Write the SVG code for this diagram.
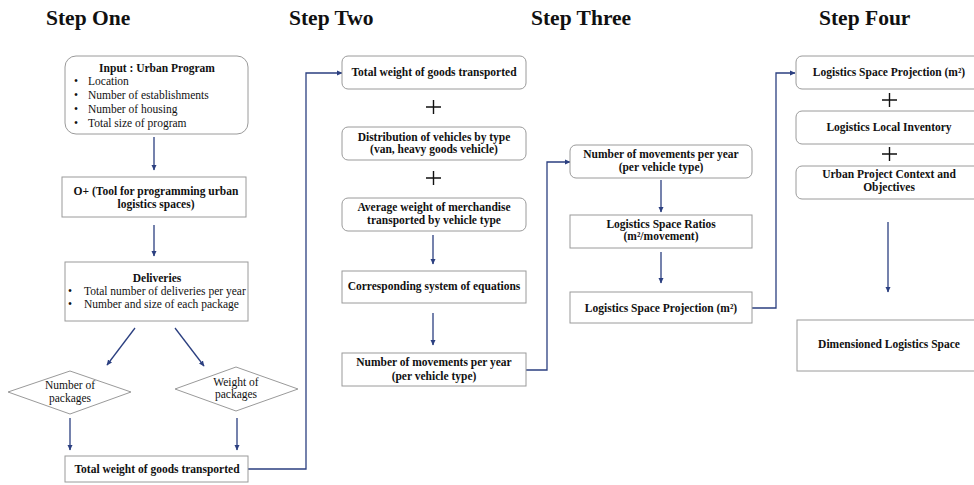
<svg xmlns="http://www.w3.org/2000/svg" width="974" height="485" viewBox="0 0 974 485">
<style>
.t{font-family:"Liberation Serif","Times New Roman",serif;fill:#111}
.h{font-size:21.5px;font-weight:bold}
.b{font-size:11.5px;font-weight:bold;text-anchor:middle}
.r{font-size:11.5px}
.rc{font-size:11.5px;text-anchor:middle}
.box{fill:#fff;stroke:#9a9a9a;stroke-width:1}
.plus{stroke:#111;stroke-width:1.4}
.c{fill:none;stroke:#2b3f80;stroke-width:1.3;marker-end:url(#a)}
</style>
<defs>
<marker id="a" markerUnits="userSpaceOnUse" markerWidth="6" markerHeight="6" refX="5" refY="3" orient="auto">
<path d="M0,0.5 L5.5,3 L0,5.5 z" fill="#2b3f80"/>
</marker>
</defs>
<rect width="974" height="485" fill="#fff"/>
<g id="titles">
<text class="t h" x="46" y="25">Step One</text>
<text class="t h" x="289" y="25">Step Two</text>
<text class="t h" x="531" y="25">Step Three</text>
<text class="t h" x="819" y="25">Step Four</text>
</g>
<g id="connectors">
<line class="c" x1="154" y1="137" x2="154" y2="170"/>
<line class="c" x1="154" y1="225" x2="154" y2="256"/>
<line class="c" x1="135" y1="328" x2="107" y2="365"/>
<line class="c" x1="175" y1="328" x2="204" y2="366"/>
<line class="c" x1="70" y1="418" x2="70" y2="450"/>
<line class="c" x1="237" y1="418" x2="237" y2="450"/>
<path class="c" d="M248,469 H306 V73 H342"/>
<line class="c" x1="433" y1="235" x2="433" y2="264"/>
<line class="c" x1="433" y1="313" x2="433" y2="345"/>
<path class="c" d="M526,370 H547 V162 H570"/>
<line class="c" x1="661" y1="180" x2="661" y2="212"/>
<line class="c" x1="661" y1="252" x2="661" y2="283"/>
<path class="c" d="M752,308 H776 V73 H795"/>
<line class="c" x1="888" y1="222" x2="888" y2="292"/>
</g>
<g id="input">
<rect class="box" x="65" y="56" width="183" height="78" rx="11"/>
<text class="t b" x="157" y="72">Input : Urban Program</text>
<text class="t r" x="74" y="85">•</text><text class="t r" x="88" y="85">Location</text>
<text class="t r" x="74" y="99">•</text><text class="t r" x="88" y="99">Number of establishments</text>
<text class="t r" x="74" y="113">•</text><text class="t r" x="88" y="113">Number of housing</text>
<text class="t r" x="74" y="127">•</text><text class="t r" x="88" y="127">Total size of program</text>
</g>
<g id="oplus">
<rect class="box" x="62" y="177" width="184" height="40"/>
<text class="t b" x="156" y="195">O+ (Tool for programming urban</text>
<text class="t b" x="156" y="208">logistics spaces)</text>
</g>
<g id="deliveries">
<rect class="box" x="65" y="262" width="183" height="59"/>
<text class="t b" x="157" y="282">Deliveries</text>
<text class="t r" x="68" y="295">•</text><text class="t r" x="84" y="295">Total number of deliveries per year</text>
<text class="t r" x="68" y="308">•</text><text class="t r" x="84" y="308">Number and size of each package</text>
</g>
<g id="num-packages">
<polygon class="box" points="8,392 70,371 131,392 70,414"/>
<text class="t rc" x="70" y="389">Number of</text>
<text class="t rc" x="70" y="402">packages</text>
</g>
<g id="weight-packages">
<polygon class="box" points="175,389 236,367 298,389 236,411"/>
<text class="t rc" x="236" y="386">Weight of</text>
<text class="t rc" x="236" y="398">packages</text>
</g>
<g id="total-weight-1">
<rect class="box" x="65" y="456" width="183" height="26"/>
<text class="t b" x="157" y="473">Total weight of goods transported</text>
</g>
<g id="total-weight-2">
<rect class="box" x="342" y="56" width="184" height="33" rx="6"/>
<text class="t b" x="434" y="76">Total weight of goods transported</text>
</g>
<g id="plus-2a"><path class="plus" d="M426,107 H441 M433.5,100 V114"/></g>
<g id="distribution">
<rect class="box" x="342" y="127" width="184" height="33" rx="6"/>
<text class="t b" x="434" y="141">Distribution of vehicles by type</text>
<text class="t b" x="434" y="153">(van, heavy goods vehicle)</text>
</g>
<g id="plus-2b"><path class="plus" d="M426,178 H441 M433.5,171 V185"/></g>
<g id="average">
<rect class="box" x="342" y="198" width="184" height="33" rx="6"/>
<text class="t b" x="434" y="211">Average weight of merchandise</text>
<text class="t b" x="434" y="224">transported by vehicle type</text>
</g>
<g id="equations">
<rect class="box" x="342" y="271" width="184" height="32"/>
<text class="t b" x="434" y="290">Corresponding system of equations</text>
</g>
<g id="movements-2">
<rect class="box" x="342" y="353" width="184" height="33"/>
<text class="t b" x="434" y="366">Number of movements per year</text>
<text class="t b" x="434" y="380">(per vehicle type)</text>
</g>
<g id="movements-3">
<rect class="box" x="570" y="145" width="182" height="33" rx="6"/>
<text class="t b" x="661" y="158">Number of movements per year</text>
<text class="t b" x="661" y="171">(per vehicle type)</text>
</g>
<g id="ratios">
<rect class="box" x="570" y="215" width="182" height="33"/>
<text class="t b" x="661" y="228">Logistics Space Ratios</text>
<text class="t b" x="661" y="240">(m²/movement)</text>
</g>
<g id="projection-3">
<rect class="box" x="570" y="292" width="182" height="31"/>
<text class="t b" x="661" y="312">Logistics Space Projection (m²)</text>
</g>
<g id="projection-4">
<rect class="box" x="796" y="56" width="190" height="33" rx="6"/>
<text class="t b" x="889" y="76">Logistics Space Projection (m²)</text>
</g>
<g id="plus-4a"><path class="plus" d="M882,100 H897 M889.5,93 V107"/></g>
<g id="inventory">
<rect class="box" x="796" y="111" width="190" height="33" rx="6"/>
<text class="t b" x="889" y="131">Logistics Local Inventory</text>
</g>
<g id="plus-4b"><path class="plus" d="M882,154 H897 M889.5,147 V161"/></g>
<g id="context">
<rect class="box" x="796" y="166" width="190" height="33" rx="6"/>
<text class="t b" x="889" y="178">Urban Project Context and</text>
<text class="t b" x="889" y="191">Objectives</text>
</g>
<g id="dimensioned">
<rect class="box" x="797" y="320" width="190" height="51"/>
<text class="t b" x="889" y="348">Dimensioned Logistics Space</text>
</g>
</svg>
